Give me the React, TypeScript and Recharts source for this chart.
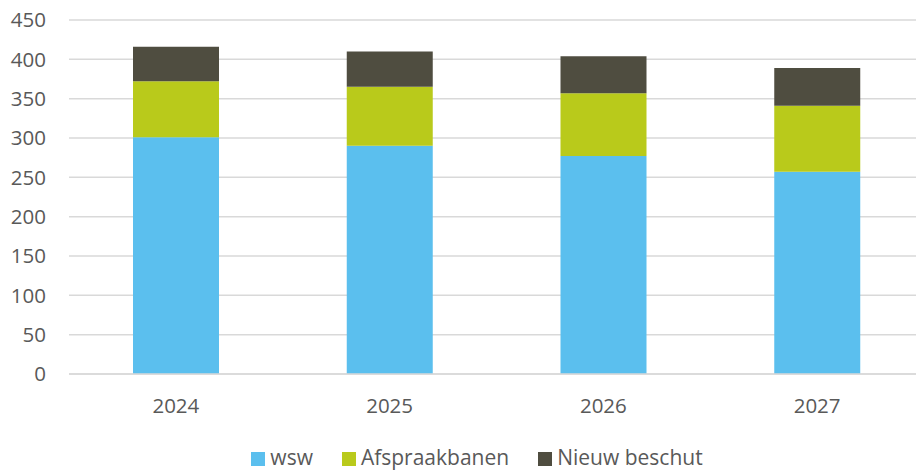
import { BarChart, Bar, XAxis, YAxis, CartesianGrid, Legend } from 'recharts';

const years = ['2024', '2025', '2026', '2027'];
const wsw = [301, 290, 277, 257];
const afspraakbanen = [71, 75, 80, 84];
const nieuwBeschut = [44, 45, 47, 48];
const yTicks = [0, 50, 100, 150, 200, 250, 300, 350, 400, 450];

const series = [
  { key: 'wsw', name: 'wsw', color: '#5BBFEE' },
  { key: 'afspraakbanen', name: 'Afspraakbanen', color: '#B9CA1B' },
  { key: 'nieuwBeschut', name: 'Nieuw beschut', color: '#4F4D40' },
];

const data = years.map((year, i) => ({
  year,
  wsw: wsw[i],
  afspraakbanen: afspraakbanen[i],
  nieuwBeschut: nieuwBeschut[i],
}));

const font = '"Open Sans", sans-serif';
const textColor = '#595959';

function LegendContent() {
  return (
    <div style={{ display: 'flex', justifyContent: 'center', fontFamily: font, fontSize: 21, lineHeight: '28px', color: textColor }}>
      {series.map((s) => (
        <div key={s.key} style={{ display: 'flex', alignItems: 'center', margin: '0 14.5px' }}>
          <span style={{ width: 14, height: 14, background: s.color, marginRight: 5, marginTop: 4 }} />
          <span>{s.name}</span>
        </div>
      ))}
    </div>
  );
}

export default function App() {
  // fixed so the chart sits at the window's 0,0 and its right edge is clipped like the original
  return (
    <div style={{ position: 'fixed', left: 0, top: 0, width: 916, height: 472, overflow: 'hidden', background: '#fff' }}>
      <BarChart
        width={940}
        height={472}
        data={data}
        margin={{ top: 20, right: 16, left: 0, bottom: 40 }}
        barSize={86}
      >
        <CartesianGrid vertical={false} stroke="#D9D9D9" strokeWidth={1.5} />
        <XAxis
          dataKey="year"
          axisLine={{ stroke: '#D9D9D9', strokeWidth: 1.5 }}
          tickLine={false}
          tickSize={0}
          tickMargin={24}
          height={30}
          tick={{ fill: textColor, fontSize: 20.5, fontFamily: font }}
        />
        <YAxis
          domain={[0, 450]}
          ticks={yTicks}
          width={69}
          axisLine={false}
          tickLine={false}
          tickSize={0}
          tickMargin={23}
          tick={{ fill: textColor, fontSize: 20.5, fontFamily: font }}
        />
        <Legend
          content={<LegendContent />}
          wrapperStyle={{ position: 'absolute', left: 0, top: 443, width: 954, height: 28 }}
        />
        {series.map((s) => (
          <Bar
            key={s.key}
            dataKey={s.key}
            name={s.name}
            stackId="a"
            fill={s.color}
            isAnimationActive={false}
          />
        ))}
      </BarChart>
    </div>
  );
}
